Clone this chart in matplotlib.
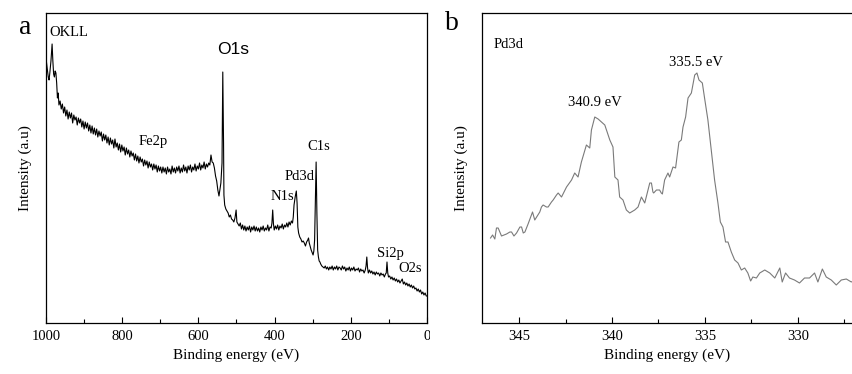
import matplotlib
matplotlib.use("Agg")
import matplotlib.pyplot as plt
from matplotlib.ticker import MultipleLocator
from matplotlib.patches import Rectangle

plt.rcParams['font.family'] = ['Liberation Serif', 'DejaVu Serif']

# survey spectrum (binding energy eV, intensity a.u.)
survey_e = [1000, 997, 994, 992, 990, 987, 984, 982, 980, 978, 976, 974, 972, 970, 968, 966, 963, 960,
            957, 954, 951, 948, 945, 942, 939, 936, 933, 930, 927, 924, 921, 918, 915, 912, 909, 906,
            903, 900, 897, 894, 891, 888, 885, 882, 879, 876, 873, 870, 867, 864, 861, 858, 855, 852,
            849, 846, 843, 840, 837, 834, 831, 828, 825, 822, 819, 816, 813, 810, 807, 804, 801, 798,
            795, 792, 789, 786, 783, 780, 777, 774, 771, 768, 765, 762, 759, 756, 753, 750, 747, 744,
            741, 738, 735, 732, 729, 726, 723, 720, 717, 714, 711, 708, 705, 702, 699, 696, 693, 690,
            687, 684, 681, 678, 675, 672, 669, 666, 663, 660, 657, 654, 651, 648, 645, 642, 639, 636,
            633, 630, 627, 624, 621, 618, 615, 612, 609, 606, 603, 600, 597, 594, 591, 588, 585, 582,
            579, 576, 573, 570, 567, 564, 561, 558, 555, 552, 549, 546, 543, 541, 538, 536, 534, 533,
            531, 528, 525, 522, 519, 516, 513, 510, 507, 504, 501, 499, 496, 493, 490, 487, 484, 481,
            478, 475, 472, 469, 466, 463, 460, 457, 454, 451, 448, 445, 442, 439, 436, 433, 430, 427,
            424, 421, 418, 415, 412, 409, 407, 405, 403, 401, 398, 395, 392, 389, 386, 383, 380, 377,
            374, 371, 368, 365, 362, 359, 356, 353, 351, 349, 346, 343, 341, 339, 337, 334, 331, 328,
            325, 322, 319, 316, 313, 311, 309, 306, 304, 301, 299, 297, 295, 293, 291, 289, 287, 285,
            283, 281, 279, 276, 273, 270, 267, 264, 261, 258, 255, 252, 249, 246, 243, 240, 237, 234,
            231, 228, 225, 222, 219, 216, 213, 210, 207, 204, 201, 198, 195, 192, 189, 186, 183, 180,
            177, 174, 171, 168, 165, 162, 160, 158, 156, 154, 151, 148, 145, 142, 139, 136, 133, 130,
            127, 124, 121, 118, 115, 112, 109, 107, 105, 103, 101, 98, 95, 92, 89, 86, 83, 80,
            77, 74, 71, 68, 65, 62, 59, 56, 53, 50, 47, 44, 41, 38, 35, 32, 29, 26,
            23, 20, 17, 14, 11, 8, 5, 2, 0]
survey_i = [265, 255, 246, 243, 250, 262, 279, 262, 249, 246, 252, 250, 240, 225, 230, 218, 222, 214,
            219, 210, 216, 207, 213, 204, 211, 205, 210, 200, 208, 203, 206, 198, 205, 200, 204, 196,
            202, 194, 201, 195, 200, 192, 198, 190, 197, 189, 195, 188, 194, 186, 192, 187, 191, 182,
            189, 183, 188, 180, 186, 178, 185, 179, 183, 175, 184, 176, 180, 173, 179, 171, 178, 172,
            176, 168, 175, 169, 173, 166, 172, 167, 170, 163, 169, 162, 167, 160, 166, 161, 164, 157,
            163, 158, 162, 155, 161, 156, 159, 153, 159, 154, 158, 151, 157, 152, 156, 150, 156, 151,
            155, 149, 156, 151, 154, 149, 157, 151, 155, 150, 156, 152, 157, 150, 155, 151, 158, 152,
            156, 150, 157, 153, 158, 151, 156, 153, 159, 152, 157, 154, 160, 153, 158, 155, 161, 154,
            159, 156, 160, 158, 168, 161, 160, 155, 147, 142, 133, 127, 135, 140, 160, 251, 180, 128,
            118, 114, 112, 110, 106, 108, 104, 103, 101, 105, 113, 101, 99, 97, 100, 94, 98, 93,
            97, 92, 96, 93, 97, 91, 96, 93, 97, 92, 96, 92, 95, 91, 96, 93, 97, 92,
            95, 93, 98, 92, 96, 95, 100, 113, 99, 93, 97, 94, 98, 93, 97, 95, 99, 94,
            98, 96, 100, 96, 101, 98, 102, 100, 106, 118, 126, 132, 120, 96, 90, 86, 84, 81,
            82, 80, 77, 81, 83, 85, 80, 76, 73, 70, 68, 72, 83, 120, 161, 110, 73, 66,
            62, 61, 59, 57, 56, 55, 57, 54, 56, 53, 56, 54, 57, 53, 56, 54, 57, 53,
            56, 55, 53, 57, 54, 56, 52, 55, 53, 56, 52, 55, 53, 56, 52, 54, 53, 55,
            51, 54, 52, 53, 50, 53, 57, 66, 55, 50, 53, 50, 52, 49, 51, 48, 51, 49,
            50, 47, 50, 48, 49, 46, 49, 50, 61, 50, 46, 47, 44, 46, 43, 45, 42, 44,
            41, 43, 40, 42, 44, 39, 41, 38, 40, 37, 39, 36, 38, 35, 37, 34, 35, 32,
            34, 31, 33, 29, 31, 28, 30, 27, 27]

# high resolution Pd3d region
pd_e = [346.54, 346.43, 346.31, 346.22, 346.13, 345.95, 345.68, 345.50, 345.41, 345.28, 345.14,
        344.96, 344.87, 344.78, 344.69, 344.52, 344.28, 344.16, 343.89, 343.80, 343.71, 343.53,
        343.44, 343.26, 343.17, 342.99, 342.90, 342.72, 342.45, 342.18, 342.01, 341.83, 341.65,
        341.38, 341.20, 341.11, 340.93, 340.75, 340.57, 340.39, 340.12, 339.95, 339.85, 339.68,
        339.59, 339.41, 339.23, 339.05, 338.78, 338.60, 338.51, 338.42, 338.24, 337.97, 337.88,
        337.80, 337.76, 337.61, 337.44, 337.35, 337.29, 337.17, 336.99, 336.90, 336.72, 336.58,
        336.40, 336.27, 336.18, 336.04, 335.91, 335.73, 335.55, 335.43, 335.32, 335.14, 335.02,
        334.84, 334.66, 334.48, 334.30, 334.17, 334.03, 333.89, 333.76, 333.58, 333.40, 333.22,
        333.04, 332.86, 332.69, 332.54, 332.42, 332.23, 332.05, 331.78, 331.51, 331.24, 330.97,
        330.84, 330.66, 330.45, 330.18, 329.91, 329.64, 329.37, 329.10, 328.92, 328.68, 328.47,
        328.20, 327.93, 327.66, 327.39, 327.12, 327.03]
pd_i = [85, 88, 84, 95, 95, 87, 89, 91, 91, 87, 90,
        96, 96, 90, 91, 99, 111, 103, 111, 116, 118, 116,
        116, 121, 123, 128, 130, 126, 136, 143, 150, 146, 161,
        178, 175, 193, 206, 204, 201, 198, 183, 176, 146, 143,
        126, 123, 113, 110, 113, 116, 121, 126, 120, 140, 140,
        131, 130, 133, 133, 130, 129, 143, 150, 146, 156, 155,
        181, 183, 196, 206, 225, 230, 248, 250, 243, 240, 225,
        203, 173, 143, 120, 101, 96, 81, 81, 71, 63, 60,
        53, 55, 50, 42, 46, 45, 50, 53, 50, 45, 55,
        41, 50, 45, 43, 40, 45, 45, 50, 41, 54, 46,
        43, 38, 43, 44, 41, 42]

survey_labels = ["OKLL", "Fe2p", "O1s", "N1s", "Pd3d", "C1s", "Si2p", "O2s"]
survey_label_e = [992, 718, 510, 380, 335, 283, 96, 45]
survey_label_i = [290, 181, 273, 126, 146, 176, 70, 54]

pd_labels = ["340.9 eV", "335.5 eV"]
pd_label_e = [340.9, 335.5]
pd_label_i = [220, 260]

W, H = 853, 374
fig = plt.figure(figsize=(W / 100, H / 100), dpi=100)
ax1 = fig.add_axes([46 / W, 51 / H, 381 / W, 310 / H])
ax2 = fig.add_axes([482 / W, 51 / H, 371 / W, 310 / H])

ax1.plot(survey_e, survey_i, color='black', lw=0.8)
ax1.set_xlim(1000, 0)
ax1.set_ylim(0, 310)
ax1.xaxis.set_major_locator(MultipleLocator(200))
ax1.xaxis.set_minor_locator(MultipleLocator(100))

ax2.plot(pd_e, pd_i, color='#7a7a7a', lw=0.8)
ax2.set_xlim(347, 327.03)
ax2.set_ylim(0, 310)
ax2.xaxis.set_major_locator(MultipleLocator(5))
ax2.xaxis.set_minor_locator(MultipleLocator(2.5))
ax2.spines['right'].set_visible(False)

for ax in (ax1, ax2):
    ax.set_yticks([])
    ax.tick_params(axis='x', which='both', direction='in', top=False, labelsize=10.5, pad=5)
    ax.tick_params(axis='x', which='major', length=4, width=0.8)
    ax.tick_params(axis='x', which='minor', length=3, width=0.8)
    for s in ax.spines.values():
        s.set_linewidth(0.9)
    ax.set_xlabel("Binding energy (eV)", fontsize=11, labelpad=4)
    ax.set_ylabel("Intensity (a.u)", fontsize=11, labelpad=10)

for lab, e, v in zip(survey_labels, survey_label_e, survey_label_i):
    if lab == "OKLL":
        ax1.text(e, v, lab, ha='left', va='center', fontsize=10.5)
    elif lab == "O1s":
        ax1.text(e, v, lab, ha='center', va='center', fontsize=12.5, family=['Liberation Sans', 'DejaVu Sans'])
    else:
        ax1.text(e, v, lab, ha='center', va='center', fontsize=10.5)

ax2.text(346.4, 278, "Pd3d", ha='left', va='center', fontsize=10.5)
for lab, e, v in zip(pd_labels, pd_label_e, pd_label_i):
    ax2.text(e, v, lab, ha='center', va='center', fontsize=10.5)

fig.text(25 / W, 1 - 27 / H, "a", ha='center', va='center', fontsize=20)
fig.text(452 / W, 1 - 24 / H, "b", ha='center', va='center', fontsize=20)

# the source picture cuts panel a just right of its last tick label
fig.patches.append(Rectangle((429.5 / W, 1 - 352 / H), 14 / W, 22 / H, transform=fig.transFigure,
                             facecolor='white', edgecolor='none', zorder=10))

fig.savefig("out.png", dpi=100)
